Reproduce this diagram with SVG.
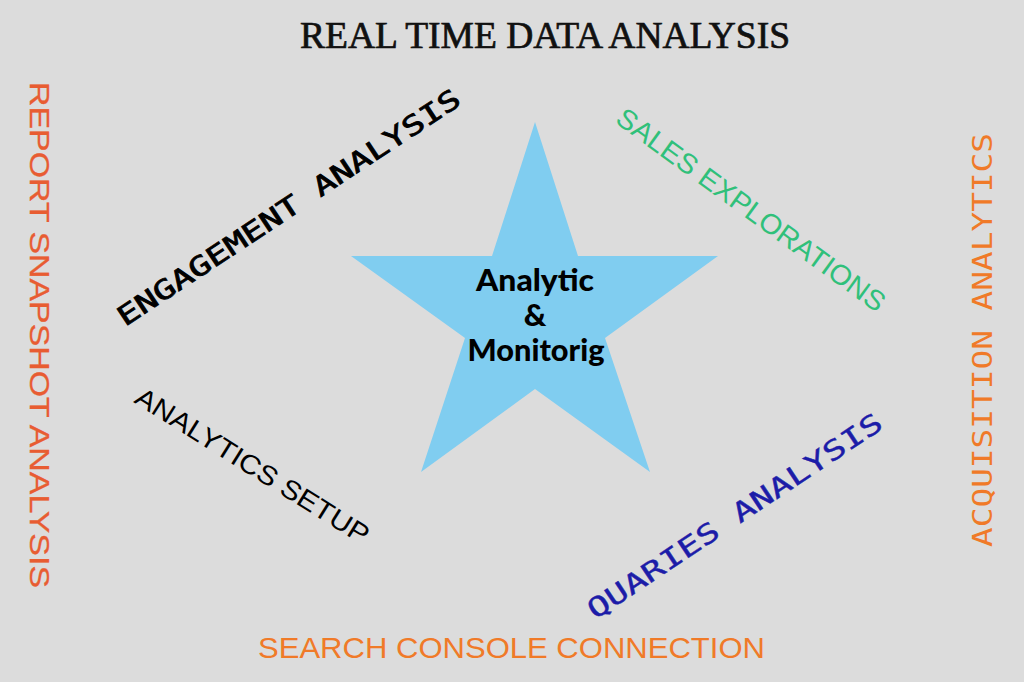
<svg xmlns="http://www.w3.org/2000/svg" width="1024" height="682" viewBox="0 0 1024 682">
<style>
.comic{font-family:"Liberation Sans","DejaVu Sans",sans-serif;}
.mono{font-family:"DejaVu Sans Mono","Liberation Mono",monospace;}
.serif{font-family:"Liberation Serif","DejaVu Serif",serif;}
.center{font-family:Lato,"DejaVu Sans",sans-serif;font-weight:900;font-size:31px;fill:#000;text-anchor:middle;}
</style>
<rect x="0" y="0" width="1024" height="682" fill="#dcdcdc"/>
<g id="star">
<polygon points="535,122 578,256 718,256 605,338 650,472 535,389 421,472 465,338 351,256 492,256" fill="#80cdf0"/>
<text class="center" x="535" y="291" textLength="118" lengthAdjust="spacingAndGlyphs">Analytic</text>
<text class="center" x="535" y="326">&amp;</text>
<text class="center" x="536" y="361" textLength="137" lengthAdjust="spacingAndGlyphs">Monitorig</text>
</g>
<g id="title">
<text class="serif" x="300" y="48" font-size="37" fill="#111" stroke="#111" stroke-width="0.7" textLength="490" lengthAdjust="spacingAndGlyphs">REAL TIME DATA ANALYSIS</text>
</g>
<g id="report-snapshot">
<text class="comic" transform="translate(30,82) rotate(90)" font-size="28" fill="#e85c32" stroke="#e85c32" stroke-width="0.3" textLength="506" lengthAdjust="spacingAndGlyphs">REPORT SNAPSHOT ANALYSIS</text>
</g>
<g id="acquisition">
<text class="mono" transform="translate(992,547) rotate(-90)" font-size="27" fill="#f07a28" textLength="414" lengthAdjust="spacingAndGlyphs">ACQUISITION ANALYTICS</text>
</g>
<g id="engagement">
<text class="mono" transform="translate(125,327) rotate(-33.5)" font-size="27" fill="#000" stroke="#000" stroke-width="0.8" textLength="405" lengthAdjust="spacingAndGlyphs">ENGAGEMENT ANALYSIS</text>
</g>
<g id="sales">
<text class="comic" transform="translate(614,122) rotate(36)" font-size="28" fill="#30c07a" textLength="325" lengthAdjust="spacingAndGlyphs">SALES EXPLORATIONS</text>
</g>
<g id="analytics-setup">
<text class="comic" transform="translate(133,402) rotate(32)" font-size="27" fill="#000" textLength="270" lengthAdjust="spacingAndGlyphs">ANALYTICS SETUP</text>
</g>
<g id="quaries">
<text class="mono" transform="translate(595,620) rotate(-33.6)" font-size="27" fill="#1c1ca8" stroke="#1c1ca8" stroke-width="0.4" textLength="348" lengthAdjust="spacingAndGlyphs">QUARIES ANALYSIS</text>
</g>
<g id="search-console">
<text class="comic" x="258" y="658" font-size="30" fill="#f07a28" textLength="507" lengthAdjust="spacingAndGlyphs">SEARCH CONSOLE CONNECTION</text>
</g>
<g id="connectors"/>
</svg>
